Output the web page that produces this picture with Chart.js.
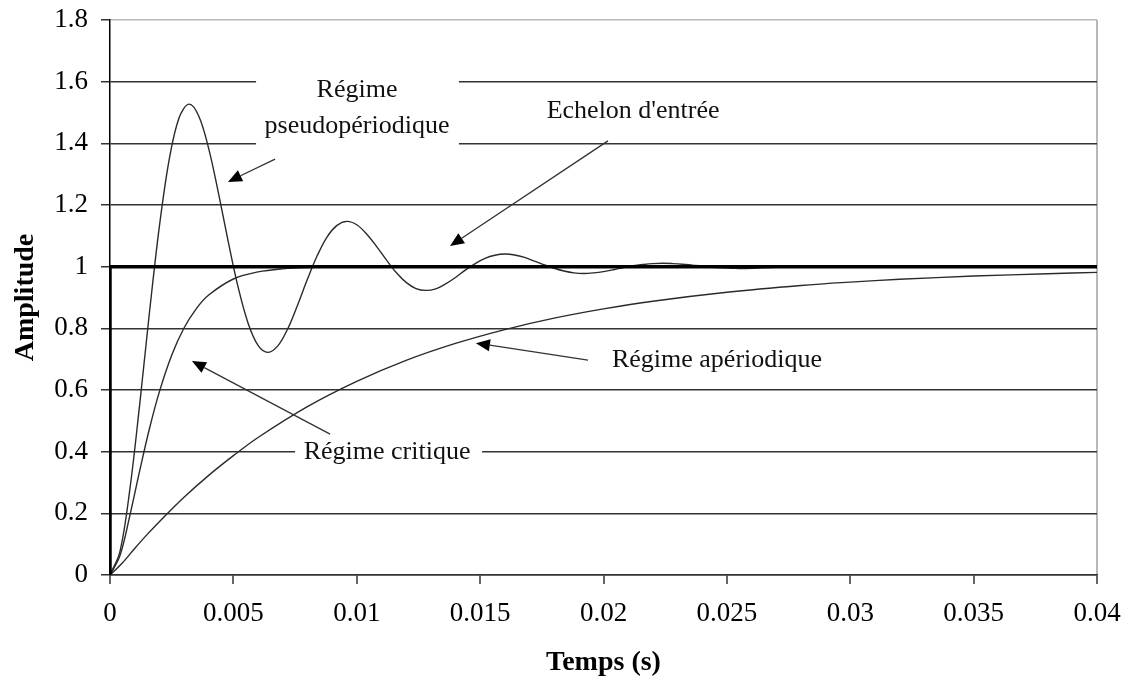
<!DOCTYPE html>
<html>
<head>
<meta charset="utf-8">
<script src="https://cdn.jsdelivr.net/npm/chart.js@4.4.1/dist/chart.umd.min.js"></script>
<style>
  html, body { margin: 0; padding: 0; background: #fff; }
  #wrap { width: 1130px; height: 684px; }
</style>
</head>
<body>
<div id="wrap"><canvas id="c" width="1130" height="684"></canvas></div>
<script>
// ---- Data ----
const xTickLabels = ['0', '0.005', '0.01', '0.015', '0.02', '0.025', '0.03', '0.035', '0.04'];
const yTickLabels = ['0', '0.2', '0.4', '0.6', '0.8', '1', '1.2', '1.4', '1.6', '1.8'];

// Echelon d'entrée (step input)
const tStep = [0, 0, 0.04];
const yStep = [0, 1, 1];

// Régime pseudopériodique
const tPseudo = [
  0, 0.0004, 0.0008, 0.0012, 0.0016, 0.0020, 0.0024, 0.0028, 0.0032, 0.0036,
  0.0040, 0.0044, 0.0048, 0.0052, 0.0056, 0.0060, 0.0064, 0.0068, 0.0072, 0.0076,
  0.0080, 0.0084, 0.0088, 0.0092, 0.0096, 0.0100, 0.0104, 0.0108, 0.0112, 0.0116,
  0.0120, 0.0124, 0.0128, 0.0132, 0.0136, 0.0140, 0.0144, 0.0148, 0.0152, 0.0156,
  0.0160, 0.0164, 0.0168, 0.0172, 0.0176, 0.0180, 0.0184, 0.0188, 0.0192, 0.0196,
  0.0200, 0.0204, 0.0208, 0.0212, 0.0216, 0.0220, 0.0224, 0.0228, 0.0232, 0.0236,
  0.0240, 0.0244, 0.0248, 0.0252, 0.0256, 0.0264, 0.0272, 0.0280, 0.0288, 0.0296,
  0.0304, 0.0312, 0.0320, 0.0340, 0.0360, 0.0380, 0.0400
];
const yPseudo = [
  0, 0.075, 0.275, 0.551, 0.852, 1.130, 1.348, 1.483, 1.527, 1.488,
  1.383, 1.237, 1.078, 0.931, 0.816, 0.745, 0.722, 0.743, 0.798, 0.875,
  0.959, 1.036, 1.097, 1.134, 1.147, 1.136, 1.106, 1.066, 1.022, 0.981,
  0.949, 0.929, 0.923, 0.928, 0.944, 0.965, 0.989, 1.010, 1.027, 1.037,
  1.041, 1.038, 1.030, 1.018, 1.006, 0.995, 0.986, 0.980, 0.978, 0.980,
  0.984, 0.990, 0.997, 1.003, 1.007, 1.010, 1.011, 1.010, 1.008, 1.005,
  1.002, 0.998, 0.996, 0.995, 0.994, 0.996, 0.999, 1.002, 1.003, 1.002,
  1.0005, 0.999, 0.998, 1.000, 1.000, 1.000, 1.000
];

// Régime critique
const tCrit = [0, 0.0004, 0.0008, 0.0012, 0.0016, 0.002, 0.0025, 0.003, 0.0035, 0.004,
  0.005, 0.006, 0.007, 0.008, 0.010, 0.012, 0.015, 0.020, 0.030, 0.040];
const yCrit = [0, 0.062, 0.191, 0.337, 0.475, 0.594, 0.713, 0.801, 0.864, 0.908,
  0.960, 0.983, 0.993, 0.997, 0.9995, 1, 1, 1, 1, 1];

// Régime apériodique
const tAper = [0, 0.0005, 0.001, 0.0015, 0.002, 0.003, 0.004, 0.005, 0.006, 0.008,
  0.010, 0.012, 0.014, 0.016, 0.018, 0.020, 0.022, 0.025, 0.028, 0.030,
  0.032, 0.035, 0.038, 0.040];
const yAper = [0, 0.039, 0.086, 0.131, 0.173, 0.252, 0.323, 0.387, 0.446, 0.546,
  0.628, 0.696, 0.751, 0.796, 0.833, 0.863, 0.888, 0.917, 0.939, 0.950,
  0.959, 0.9695, 0.977, 0.9815];

// Annotations (anchored in data coordinates)
const boxes = [
  { t0: 0.00592, t1: 0.01414, v0: 1.378, v1: 1.638 },
  { t0: 0.00750, t1: 0.01508, v0: 0.347, v1: 0.450 }
];
const labels = [
  { text: 'Régime', t: 0.01001, v: 1.573 },
  { text: 'pseudopériodique', t: 0.01001, v: 1.456 },
  { text: "Echelon d'entrée", t: 0.02120, v: 1.505 },
  { text: 'Régime apériodique', t: 0.02460, v: 0.697 },
  { text: 'Régime critique', t: 0.01123, v: 0.399 }
];
const arrows = [
  { from: [0.00669, 1.349], to: [0.00478, 1.275] },
  { from: [0.02018, 1.408], to: [0.01378, 1.067] },
  { from: [0.01937, 0.697], to: [0.01483, 0.752] },
  { from: [0.00892, 0.457], to: [0.00332, 0.694] }
];

const zip = (xs, ys) => xs.map((x, i) => ({ x: x, y: ys[i] }));

const SERIF = '"Liberation Serif", "Times New Roman", serif';

const annotPlugin = {
  id: 'annot',
  beforeDatasetsDraw(chart) {
    const { ctx, scales: { x, y } } = chart;
    ctx.save();
    ctx.fillStyle = '#ffffff';
    boxes.forEach(b => {
      const x0 = x.getPixelForValue(b.t0), x1 = x.getPixelForValue(b.t1);
      const y0 = y.getPixelForValue(b.v1), y1 = y.getPixelForValue(b.v0);
      ctx.fillRect(x0, y0, x1 - x0, y1 - y0);
    });
    ctx.restore();
  },
  afterDatasetsDraw(chart) {
    const { ctx, scales: { x, y } } = chart;
    ctx.save();
    ctx.fillStyle = '#111';
    ctx.font = '26px ' + SERIF;
    ctx.textAlign = 'center';
    ctx.textBaseline = 'middle';
    labels.forEach(l => {
      ctx.fillText(l.text, x.getPixelForValue(l.t), y.getPixelForValue(l.v));
    });
    ctx.strokeStyle = '#333';
    ctx.fillStyle = '#000';
    ctx.lineWidth = 1.3;
    arrows.forEach(a => {
      const x1 = x.getPixelForValue(a.from[0]), y1 = y.getPixelForValue(a.from[1]);
      const x2 = x.getPixelForValue(a.to[0]), y2 = y.getPixelForValue(a.to[1]);
      const ang = Math.atan2(y2 - y1, x2 - x1);
      const L = 14, W = 6;
      const bx = x2 - L * Math.cos(ang), by = y2 - L * Math.sin(ang);
      ctx.beginPath();
      ctx.moveTo(x1, y1);
      ctx.lineTo(bx, by);
      ctx.stroke();
      ctx.beginPath();
      ctx.moveTo(x2, y2);
      ctx.lineTo(bx + W * Math.sin(ang), by - W * Math.cos(ang));
      ctx.lineTo(bx - W * Math.sin(ang), by + W * Math.cos(ang));
      ctx.closePath();
      ctx.fill();
    });
    ctx.restore();
  }
};

const curveStyle = { borderColor: '#2a2a2a', borderWidth: 1.4, pointRadius: 0, showLine: true, tension: 0.35, fill: false };

new Chart(document.getElementById('c'), {
  type: 'scatter',
  data: {
    datasets: [
      { label: "Echelon d'entrée", data: zip(tStep, yStep), borderColor: '#000', borderWidth: 3.5, pointRadius: 0, showLine: true, tension: 0, fill: false },
      Object.assign({ label: 'Régime pseudopériodique', data: zip(tPseudo, yPseudo) }, curveStyle),
      Object.assign({ label: 'Régime critique', data: zip(tCrit, yCrit) }, curveStyle),
      Object.assign({ label: 'Régime apériodique', data: zip(tAper, yAper) }, curveStyle)
    ]
  },
  options: {
    responsive: false,
    devicePixelRatio: 1,
    animation: false,
    layout: { padding: { top: 20, right: 33, left: 0, bottom: 0 } },
    plugins: { legend: { display: false }, tooltip: { enabled: false } },
    scales: {
      x: {
        type: 'linear',
        min: 0, max: 0.04,
        afterFit(scale) { scale.height = 109; scale.paddingLeft = 0; scale.paddingRight = 0; },
        ticks: {
          stepSize: 0.005,
          padding: 14,
          color: '#000',
          font: { family: SERIF, size: 27 },
          maxRotation: 0,
          callback: (v) => xTickLabels[Math.round(v / 0.005)]
        },
        grid: {
          drawOnChartArea: true,
          color: (c) => (c.tick && Math.abs(c.tick.value - 0.04) < 1e-9) ? '#b8b8b8' : 'rgba(0,0,0,0)',
          lineWidth: 2,
          tickColor: '#333',
          tickLength: 9,
          tickWidth: 1.5
        },
        border: { display: true, color: '#333', width: 1.5 },
        title: {
          display: true, text: 'Temps (s)', color: '#000',
          font: { family: SERIF, size: 28, weight: 'bold', lineHeight: 1.2 },
          padding: { top: 0, bottom: 4 }
        }
      },
      y: {
        type: 'linear',
        min: 0, max: 1.8,
        afterFit(scale) { scale.width = 110; scale.paddingTop = 0; scale.paddingBottom = 0; },
        ticks: {
          stepSize: 0.2,
          padding: 13,
          color: '#000',
          font: { family: SERIF, size: 27 },
          callback: (v) => yTickLabels[Math.round(v / 0.2)]
        },
        grid: {
          color: (c) => (c.tick && Math.abs(c.tick.value - 1.8) < 1e-9) ? '#b8b8b8' : '#333',
          lineWidth: 1.5,
          tickColor: '#333',
          tickLength: 9,
          tickWidth: 1.5
        },
        border: { display: true, color: '#000', width: 1.5 },
        title: {
          display: true, text: 'Amplitude', color: '#000',
          font: { family: SERIF, size: 28, weight: 'bold', lineHeight: 1.2 },
          padding: { top: 9, bottom: 0 }
        }
      }
    }
  },
  plugins: [annotPlugin]
});
</script>
</body>
</html>
